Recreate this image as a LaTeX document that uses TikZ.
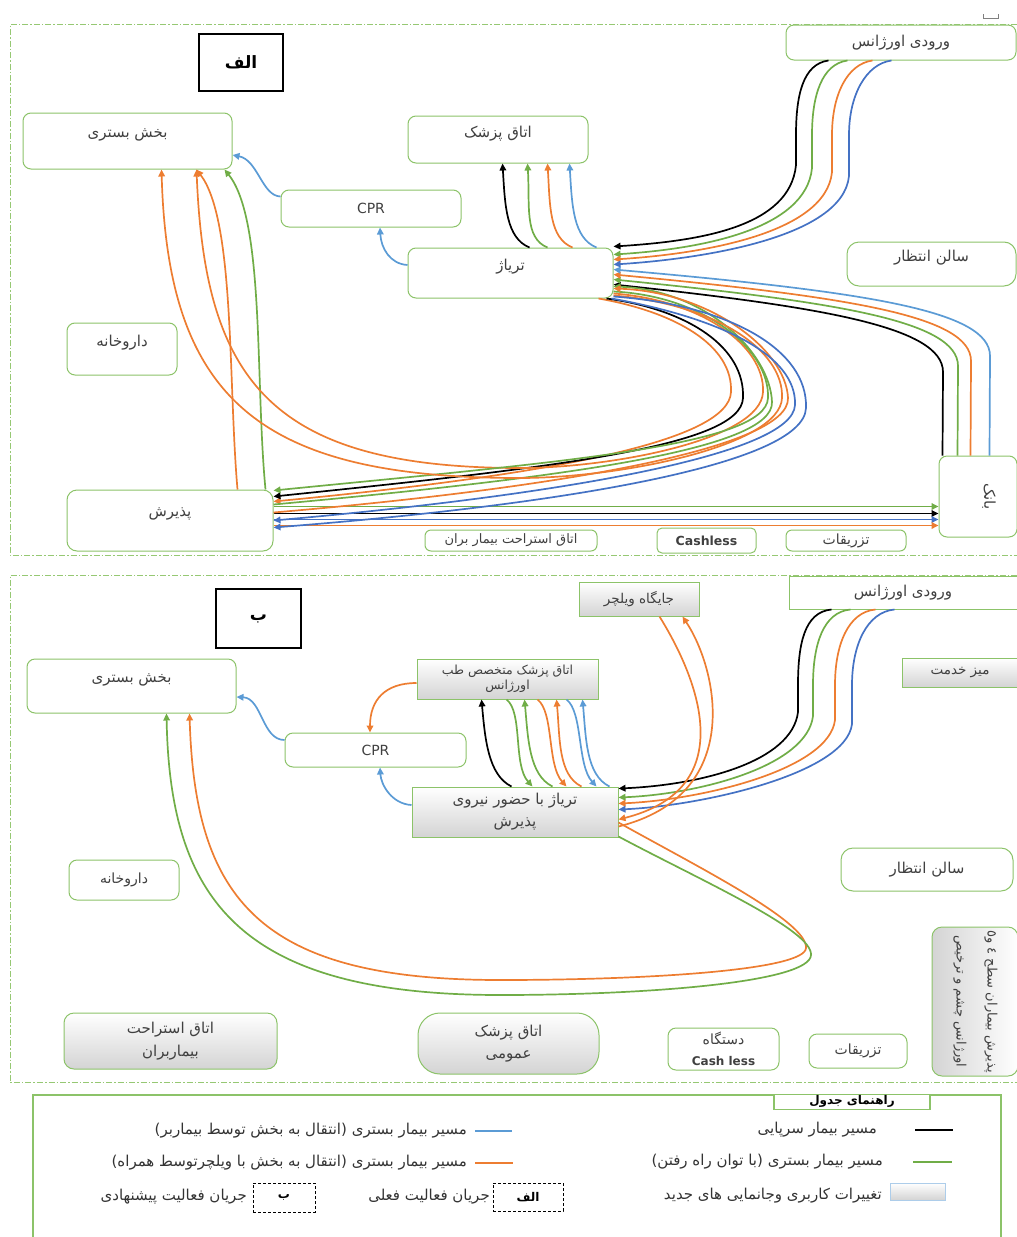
\documentclass[tikz,border=0pt]{standalone}
\usepackage{fontspec}
\usepackage{graphicx}
\setmainfont{DejaVu Sans}
\newfontfamily\farsi[Script=Arabic]{DejaVu Sans}
\TeXXeTstate=1
\usetikzlibrary{arrows.meta, positioning}
\definecolor{pathgreen}{RGB}{112,173,71}
\definecolor{pathorange}{RGB}{237,125,49}
\definecolor{pathblue}{RGB}{91,155,213}
\definecolor{pathdblue}{RGB}{68,114,196}
\definecolor{roomgreen}{RGB}{140,195,105}
\definecolor{framegreen}{RGB}{150,200,115}
\newcommand{\fa}[1]{{\farsi\beginR #1\endR}}
\tikzset{
  room/.style={draw=roomgreen, line width=1pt, rounded corners=8pt, fill=white, text=black!75,
    align=center, inner sep=1pt, font=\fontsize{15}{18}\selectfont},
  newroom/.style={room, top color=white, bottom color=black!17},
  hightext/.style={text depth=16pt},
  tagbox/.style={draw, line width=1.5pt, font=\fontsize{17}{20}\selectfont},
  frameline/.style={framegreen, line width=1pt, dash pattern=on 6pt off 2pt on 1.5pt off 2pt},
  flow/.style={line width=1.7pt, -{Triangle[length=7pt,width=6.5pt]}},
  legtext/.style={font=\fontsize{15}{17}\selectfont, text=black!80, inner sep=0pt}
}
\begin{document}
\begin{tikzpicture}[x=1pt, y=-1pt]
\useasboundingbox (0,0) rectangle (1017,1237);
\draw[frameline] (1017,24) -- (10,24) -- (10,555) -- (1017,555);
\draw[frameline] (1017,575) -- (10,575) -- (10,1082) -- (1017,1082);
\draw[black!50, line width=0.6pt] (983,14) -- (983,18) -- (998,18) -- (998,14);

\node[tagbox, minimum width=84pt, minimum height=57pt] (tagA) at (241,62.5) {\fa{\bfseries الف}};
\node[room, hightext, minimum width=209pt, minimum height=56pt] (bedA) at (127.5,141) {\fa{بخش بستری}};
\node[room, hightext, minimum width=180pt, minimum height=47pt] (docA) at (498,139.5) {\fa{اتاق پزشک}};
\node[room, minimum width=180pt, minimum height=37pt, font=\fontsize{14}{16}\selectfont] (cprA) at (371,208.5) {CPR};
\node[room, hightext, minimum width=205pt, minimum height=50pt] (triA) at (510.5,273) {\fa{تریاژ}};
\node[room, minimum width=230pt, minimum height=35pt] (entA) at (901,42.5) {\fa{ورودی اورژانس}};
\node[room, hightext, rounded corners=12pt, minimum width=169pt, minimum height=44pt] (waitA) at (931.5,264) {\fa{سالن انتظار}};
\node[room, hightext, minimum width=110pt, minimum height=52pt] (pharmA) at (122,349) {\fa{داروخانه}};
\node[room, hightext, rounded corners=10pt, minimum width=206pt, minimum height=61pt] (admA) at (170,520.5) {\fa{پذیرش}};
\node[room, minimum width=78pt, minimum height=81pt] (bankA) at (978,496.5) {\rotatebox{-90}{\fa{بانک}\rule[-24pt]{0pt}{0pt}}};
\node[room, rounded corners=6pt, minimum width=172pt, minimum height=21pt, font=\fontsize{13}{14}\selectfont] (restA) at (511,540.5) {\fa{اتاق استراحت بیمار بران}};
\node[room, rounded corners=5pt, minimum width=99pt, minimum height=25pt, font=\bfseries\fontsize{12.5}{14}\selectfont] (cashA) at (706.5,540.5) {Cashless};
\node[room, rounded corners=6pt, minimum width=120pt, minimum height=21pt, font=\fontsize{14}{15}\selectfont] (injA) at (846,540.5) {\fa{تزریقات}};

\foreach \col/\sx/\vx/\vy/\ey in {black/829/796/165/247, pathgreen/848/812/168/255, pathorange/873/832/172/260, pathdblue/892/849/176/265}
  \draw[flow, color=\col] ([xshift={\sx-786}]entA.south west) .. controls (\sx-26,64) and (\vx,95) .. (\vx,135) -- (\vx,\vy) .. controls (\vx-6,\vy+62) and (700,\ey-6) .. ([yshift={248-\ey}]triA.north east);
\foreach \col/\sx/\ex in {black/530/503, pathgreen/548/528, pathorange/573/548, pathblue/597/570}
  \draw[flow, color=\col] ([xshift={\sx-408}]triA.north west) .. controls (\sx-24,238) and (\ex+2,205) .. ([xshift={\ex-408}]docA.south west);
\draw[flow, color=pathblue] ([yshift=8]triA.west) .. controls (390,264) and (381,248) .. ([xshift=9]cprA.south);
\draw[flow, color=pathblue] ([yshift=12]cprA.west) .. controls (262,196) and (258,160) .. ([yshift=-14]bedA.east);
\draw[flow, color=pathgreen] ([xshift=-8]admA.north east) .. controls (255,380) and (265,220) .. ([xshift=-8]bedA.south east);
\draw[flow, color=pathorange] ([xshift=-36]admA.north east) .. controls (228,380) and (235,220) .. ([xshift=174]bedA.south west);
\foreach \col/\bx/\vy/\ey in {black/943/372/285, pathgreen/958/366/280, pathorange/971/361/275, pathblue/990/356/270}
  \draw[flow, color=\col] ([xshift={\bx-939}]bankA.north west) -- (\bx,\vy) .. controls (\bx,\vy-45) and (\bx-120,\ey+22) .. ([yshift={248-\ey}]triA.north east);
\foreach \col/\ly in {pathgreen/507, black/514, pathdblue/520, pathorange/526}
  \draw[flow, color=\col] ([yshift={490-\ly}]admA.north east) -- ([yshift={456-\ly}]bankA.north west);
\draw[flow, color=pathorange] ([xshift=-15]triA.south east) .. controls (675,312) and (733,345) .. (731,392) .. controls (729,440) and (560,474) .. ([yshift=-12]admA.north east);
\draw[flow, color=black] ([xshift=-7]triA.south east) .. controls (690,310) and (745,348) .. (743,398) .. controls (741,446) and (560,467) .. ([yshift=-7]admA.north east);
\draw[flow, color=pathorange] ([yshift=-46]triA.north east) .. controls (700,300) and (765,345) .. (763,392) .. controls (761,440) and (610,468) .. (520,468) .. controls (270,468) and (205,380) .. ([xshift=174]bedA.south west);
\draw[flow, color=pathgreen] ([yshift=-44]triA.north east) .. controls (705,296) and (770,350) .. (768,398) .. controls (766,446) and (560,462) .. ([yshift=-1]admA.north east);
\draw[flow, color=pathgreen] ([yshift=-15]admA.north east) .. controls (560,478) and (774,450) .. (772,402) .. controls (770,352) and (705,290) .. ([yshift=-39]triA.north east);
\draw[flow, color=pathorange] ([yshift=-48]triA.north east) .. controls (715,304) and (784,350) .. (782,398) .. controls (780,446) and (620,478) .. (520,478) .. controls (260,478) and (168,400) .. ([xshift=139]bedA.south west);
\draw[flow, color=pathorange] ([yshift=-23]admA.north east) .. controls (560,488) and (790,448) .. (788,398) .. controls (786,350) and (710,292) .. ([yshift=-41]triA.north east);
\draw[flow, color=pathdblue] ([xshift=-2]triA.south east) .. controls (720,318) and (797,355) .. (795,405) .. controls (793,455) and (560,495) .. ([yshift=-31]admA.north east);
\draw[flow, color=pathdblue] ([yshift=-49]triA.north east) .. controls (730,305) and (808,350) .. (806,408) .. controls (804,465) and (560,505) .. ([yshift=-38]admA.north east);

\node[tagbox, minimum width=85pt, minimum height=59pt] (tagB) at (258.5,618.5) {\fa{\bfseries ب}};
\node[room, hightext, minimum width=209pt, minimum height=54pt] (bedB) at (131.5,686) {\fa{بخش بستری}};
\node[newroom, sharp corners, minimum width=181pt, minimum height=40pt, font=\fontsize{12.5}{15}\selectfont] (docB) at (507.5,679) {\fa{اتاق پزشک متخصص طب}\\\fa{اورژانس}};
\node[room, minimum width=181pt, minimum height=34pt, font=\fontsize{14}{16}\selectfont] (cprB) at (375.5,750) {CPR};
\node[newroom, sharp corners, minimum width=206pt, minimum height=50pt, font=\fontsize{15}{22}\selectfont] (triB) at (515,812) {\fa{تریاژ با حضور نیروی}\\\fa{پذیرش}};
\node[newroom, sharp corners, minimum width=120pt, minimum height=34pt, font=\fontsize{13.5}{15}\selectfont] (wheelB) at (639,599) {\fa{جایگاه ویلچر}};
\node[room, sharp corners, minimum width=228pt, minimum height=33pt] (entB) at (903,592.5) {\fa{ورودی اورژانس}};
\node[newroom, sharp corners, minimum width=116pt, minimum height=29pt, font=\fontsize{13.5}{15}\selectfont] (deskB) at (960,672.5) {\fa{میز خدمت}};
\node[room, rounded corners=12pt, minimum width=172pt, minimum height=43pt] (waitB) at (927,869.5) {\fa{سالن انتظار}};
\node[room, minimum width=110pt, minimum height=40pt, font=\fontsize{14}{16}\selectfont] (pharmB) at (124,880) {\fa{داروخانه}};
\node[newroom, rounded corners=10pt, minimum width=213pt, minimum height=56pt, font=\fontsize{15}{23}\selectfont] (restB) at (170.5,1041) {\fa{اتاق استراحت}\\\fa{بیماربران}};
\node[newroom, rounded corners=22pt, minimum width=181pt, minimum height=61pt, font=\fontsize{15}{22}\selectfont] (gpB) at (508.5,1043.5) {\fa{اتاق پزشک}\\\fa{عمومی}};
\node[room, minimum width=111pt, minimum height=42pt, font=\fontsize{14}{21}\selectfont] (cashB) at (723.5,1049) {\fa{دستگاه}\\{\bfseries\fontsize{12}{14}\selectfont Cash less}};
\node[room, minimum width=98pt, minimum height=34pt, font=\fontsize{14}{16}\selectfont] (injB) at (858,1051) {\fa{تزریقات}};
\node[room, left color=black!17, right color=white, rounded corners=10pt, minimum width=86pt, minimum height=149pt, font=\fontsize{13}{15}\selectfont] (eyeB) at (975,1001.5) {\rotatebox{-90}{\begin{tabular}{@{}c@{}}\fa{پذیرش بیماران سطح ٤ و٥}\\[16pt]\fa{اورژانس چشم و ترخیص}\end{tabular}}};

\foreach \col/\sx/\vx/\vy/\ey in {black/832/798/712/789, pathgreen/851/813/716/798, pathorange/876/835/720/804, pathdblue/895/852/724/810}
  \draw[flow, color=\col] ([xshift={\sx-789}]entB.south west) .. controls (\sx-28,612) and (\vx,645) .. (\vx,685) -- (\vx,\vy) .. controls (\vx-6,\vy+50) and (700,\ey-4) .. ([yshift={787-\ey}]triB.north east);
\foreach \col/\sx/\ex in {black/512/482, pathgreen/553/525, pathorange/582/557, pathblue/610/583}
  \draw[flow, color=\col] ([xshift={\sx-412}]triB.north west) .. controls (\sx-24,775) and (\ex+3,738) .. ([xshift={\ex-417}]docB.south west);
\foreach \col/\sx/\ex in {pathgreen/507/533, pathorange/538/567, pathblue/567/597}
  \draw[flow, color=\col] ([xshift={\sx-417}]docB.south west) .. controls (\sx+16,712) and (\ex-20,765) .. ([xshift={\ex-412}]triB.north west);
\draw[flow, color=pathblue] ([yshift=7]triB.west) .. controls (392,804) and (381,785) .. ([xshift=4.5]cprB.south);
\draw[flow, color=pathblue] ([yshift=10]cprB.west) .. controls (262,740) and (262,698) .. ([yshift=-11]bedB.east);
\draw[flow, color=pathorange] ([yshift=-4]docB.west) .. controls (385,683) and (370,700) .. ([xshift=-5.5]cprB.north);
\draw[flow, color=pathorange] ([xshift=81]wheelB.south west) .. controls (705,690) and (735,790) .. ([yshift=-33]triB.north east);
\draw[flow, color=pathorange] ([yshift=-40]triB.north east) .. controls (745,795) and (718,670) .. ([xshift=104]wheelB.south west);
\draw[flow, color=pathorange] ([yshift=-36]triB.north east) .. controls (700,868) and (808,922) .. (806,948) .. controls (805,970) and (650,980) .. (500,980) .. controls (260,980) and (195,900) .. ([xshift=163]bedB.south west);
\draw[flow, color=pathgreen] ([yshift=1]triB.south east) .. controls (700,880) and (813,930) .. (811,955) .. controls (810,982) and (650,995) .. (500,995) .. controls (240,995) and (170,900) .. ([xshift=140]bedB.south west);

\draw[roomgreen, line width=1.2pt] (33,1237) -- (33,1095) -- (1001,1095) -- (1001,1237);
\node[draw=roomgreen, line width=1.2pt, fill=white, minimum width=156pt, minimum height=15pt, inner sep=0pt, text depth=5pt, font=\bfseries\fontsize{12}{13}\selectfont] (legTitle) at (852,1102) {\fa{راهنمای جدول}};
\draw[line width=2pt] (915,1130) -- (953,1130);
\node[legtext, anchor=east] (txtBlack) at (877,1130) {\fa{مسیر بیمار سرپایی}};
\draw[pathblue, line width=2pt] (475,1131) -- (512,1131);
\node[legtext, anchor=east] (txtBlue) at (467,1131) {\fa{مسیر بیمار بستری (انتقال به بخش توسط بیماربر)}};
\draw[pathgreen, line width=2.5pt] (913,1162) -- (952,1162);
\node[legtext, anchor=east] (txtGreen) at (883,1162) {\fa{مسیر بیمار بستری (با توان راه رفتن)}};
\draw[pathorange, line width=2pt] (475,1163) -- (513,1163);
\node[legtext, anchor=east] (txtOrange) at (467,1163) {\fa{مسیر بیمار بستری (انتقال به بخش با ویلچرتوسط همراه)}};
\node[newroom, sharp corners, draw=pathblue!50, line width=0.8pt, minimum width=55pt, minimum height=17pt] (keyNew) at (917.5,1191.5) {};
\node[legtext, anchor=east] (txtNew) at (882,1196) {\fa{تغییرات کاربری وجانمایی های جدید}};
\node[draw, densely dashed, minimum width=70pt, minimum height=28pt, inner sep=0pt, font=\fontsize{12}{14}\selectfont] (keyA) at (528,1197) {\fa{\bfseries الف}};
\node[legtext, anchor=east] (txtA) at (490,1197) {\fa{جریان فعالیت فعلی}};
\node[draw, densely dashed, minimum width=62pt, minimum height=29pt, inner sep=0pt, font=\fontsize{12}{14}\selectfont] (keyB) at (284,1197.5) {\fa{\bfseries ب}};
\node[legtext, anchor=east] (txtB) at (247,1197) {\fa{جریان فعالیت پیشنهادی}};
\end{tikzpicture}
\end{document}
